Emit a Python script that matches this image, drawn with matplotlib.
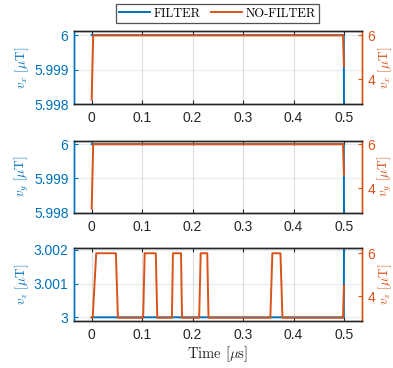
import matplotlib
matplotlib.use("Agg")
import matplotlib.pyplot as plt

plt.rcParams['mathtext.fontset'] = 'cm'
plt.rcParams['font.family'] = ['Liberation Sans', 'DejaVu Sans']

BLUE = '#0072BD'
ORANGE = '#D95319'
DARK = '#262626'

# ---- data ----
x_ticks = [0, 0.1, 0.2, 0.3, 0.4, 0.5]
x_tick_labels = ['0', '0.1', '0.2', '0.3', '0.4', '0.5']

# panel 1 (v_x)
t_filter_x = [0, 0.4995, 0.5]
v_filter_x = [6.0, 6.0, 5.9975]
t_nofilter_x = [0, 0.003, 0.498, 0.5]
v_nofilter_x = [3.08, 6.0, 6.0, 4.6]

# panel 2 (v_y)
t_filter_y = [0, 0.4995, 0.5]
v_filter_y = [6.0, 6.0, 5.9975]
t_nofilter_y = [0, 0.003, 0.498, 0.5]
v_nofilter_y = [3.06, 6.0, 6.0, 4.6]

# panel 3 (v_z)
t_filter_z = [0, 0.4995, 0.5]
v_filter_z = [3.0, 3.0, 3.0025]
t_nofilter_z = [0, 0.002, 0.009, 0.048, 0.052, 0.102, 0.105, 0.127, 0.130,
                0.159, 0.161, 0.177, 0.179, 0.213, 0.216, 0.229, 0.2315,
                0.354, 0.358, 0.374, 0.378, 0.498, 0.5]
v_nofilter_z = [3, 3, 6, 6, 3, 3, 6, 6, 3, 3, 6, 6, 3, 3, 6, 6, 3,
                3, 6, 6, 3, 3, 4.5]

left_ticks_xy = [5.998, 5.999, 6.0]
left_labels_xy = ['5.998', '5.999', '6']
left_ticks_z = [3.0, 3.001, 3.002]
left_labels_z = ['3', '3.001', '3.002']
right_ticks = [4, 6]
right_labels = ['4', '6']

panels = [
    dict(tf=t_filter_x, vf=v_filter_x, tn=t_nofilter_x, vn=v_nofilter_x,
         lt=left_ticks_xy, ll=left_labels_xy, lylim=(5.998, 6.00012),
         rylim=(2.88, 6.2), sub='x', pos=(74, 31, 361.7, 104)),
    dict(tf=t_filter_y, vf=v_filter_y, tn=t_nofilter_y, vn=v_nofilter_y,
         lt=left_ticks_xy, ll=left_labels_xy, lylim=(5.998, 6.0001),
         rylim=(2.88, 6.16), sub='y', pos=(74, 140.7, 361.7, 212.7)),
    dict(tf=t_filter_z, vf=v_filter_z, tn=t_nofilter_z, vn=v_nofilter_z,
         lt=left_ticks_z, ll=left_labels_z, lylim=(2.99989, 3.00205),
         rylim=(2.85, 6.23), sub='z', pos=(74, 248.3, 361.7, 321)),
]

W, H = 393, 368
fig = plt.figure(figsize=(W / 100, H / 100), dpi=100)

handles = None
for i, p in enumerate(panels):
    x0, y0, x1, y1 = p['pos']
    ax = fig.add_axes([x0 / W, 1 - y1 / H, (x1 - x0) / W, (y1 - y0) / H])
    ax2 = ax.twinx()
    lf, = ax.plot(p['tf'], p['vf'], color=BLUE, lw=1.4)
    ln, = ax2.plot(p['tn'], p['vn'], color=ORANGE, lw=1.4)
    if handles is None:
        handles = [lf, ln]
    ax.set_xlim(-0.035, 0.535)
    ax.set_ylim(*p['lylim'])
    ax2.set_ylim(*p['rylim'])
    ax.set_xticks(x_ticks)
    ax.set_xticklabels(x_tick_labels)
    ax.set_yticks(p['lt'])
    ax.set_yticklabels(p['ll'])
    ax2.set_yticks(right_ticks)
    ax2.set_yticklabels(right_labels)

    ax.grid(True, axis='x', color=DARK, alpha=0.15, lw=0.8)
    ax.grid(True, axis='y', color=BLUE, alpha=0.12, lw=0.8)

    for a in (ax, ax2):
        a.spines['top'].set_color(DARK)
        a.spines['bottom'].set_color(DARK)
        a.spines['left'].set_color(BLUE)
        a.spines['right'].set_color(ORANGE)
        for s in a.spines.values():
            s.set_linewidth(1.0)

    ax.tick_params(axis='x', direction='in', length=3, width=0.8, color=DARK,
                   labelcolor=DARK, labelsize=10, pad=5, top=True)
    ax.tick_params(axis='y', direction='in', length=3, width=0.8, color=BLUE,
                   labelcolor=BLUE, labelsize=10, pad=4)
    ax2.tick_params(axis='y', direction='in', length=3, width=0.8, color=ORANGE,
                    labelcolor=ORANGE, labelsize=10, pad=4)

    lab = r'$v_%s$ [$\mu$T]' % p['sub']
    ax.set_ylabel(lab, color=BLUE, fontsize=9.5, family='cmr10')
    ax.yaxis.set_label_coords(-0.15, 0.5)
    ax2.set_ylabel(lab, color=ORANGE, fontsize=9.5, family='cmr10', rotation=90)
    ax2.yaxis.set_label_coords(1.05, 0.5)

    if i == 2:
        ax.set_xlabel(r'Time [$\mu$s]', color=DARK, fontsize=10.5, family='cmr10',
                      labelpad=1.5)

leg = fig.legend(handles, ['FILTER', 'NO-FILTER'], ncol=2, loc='center',
                 bbox_to_anchor=(217.5 / W, 1 - 13.5 / H),
                 prop={'family': 'cmr10', 'size': 9}, frameon=True,
                 fancybox=False, edgecolor=DARK, handlelength=2.5,
                 handletextpad=0.3, columnspacing=0.8, borderpad=0.25,
                 borderaxespad=0)
leg.get_frame().set_linewidth(0.9)

fig.savefig('out.png', dpi=100)
